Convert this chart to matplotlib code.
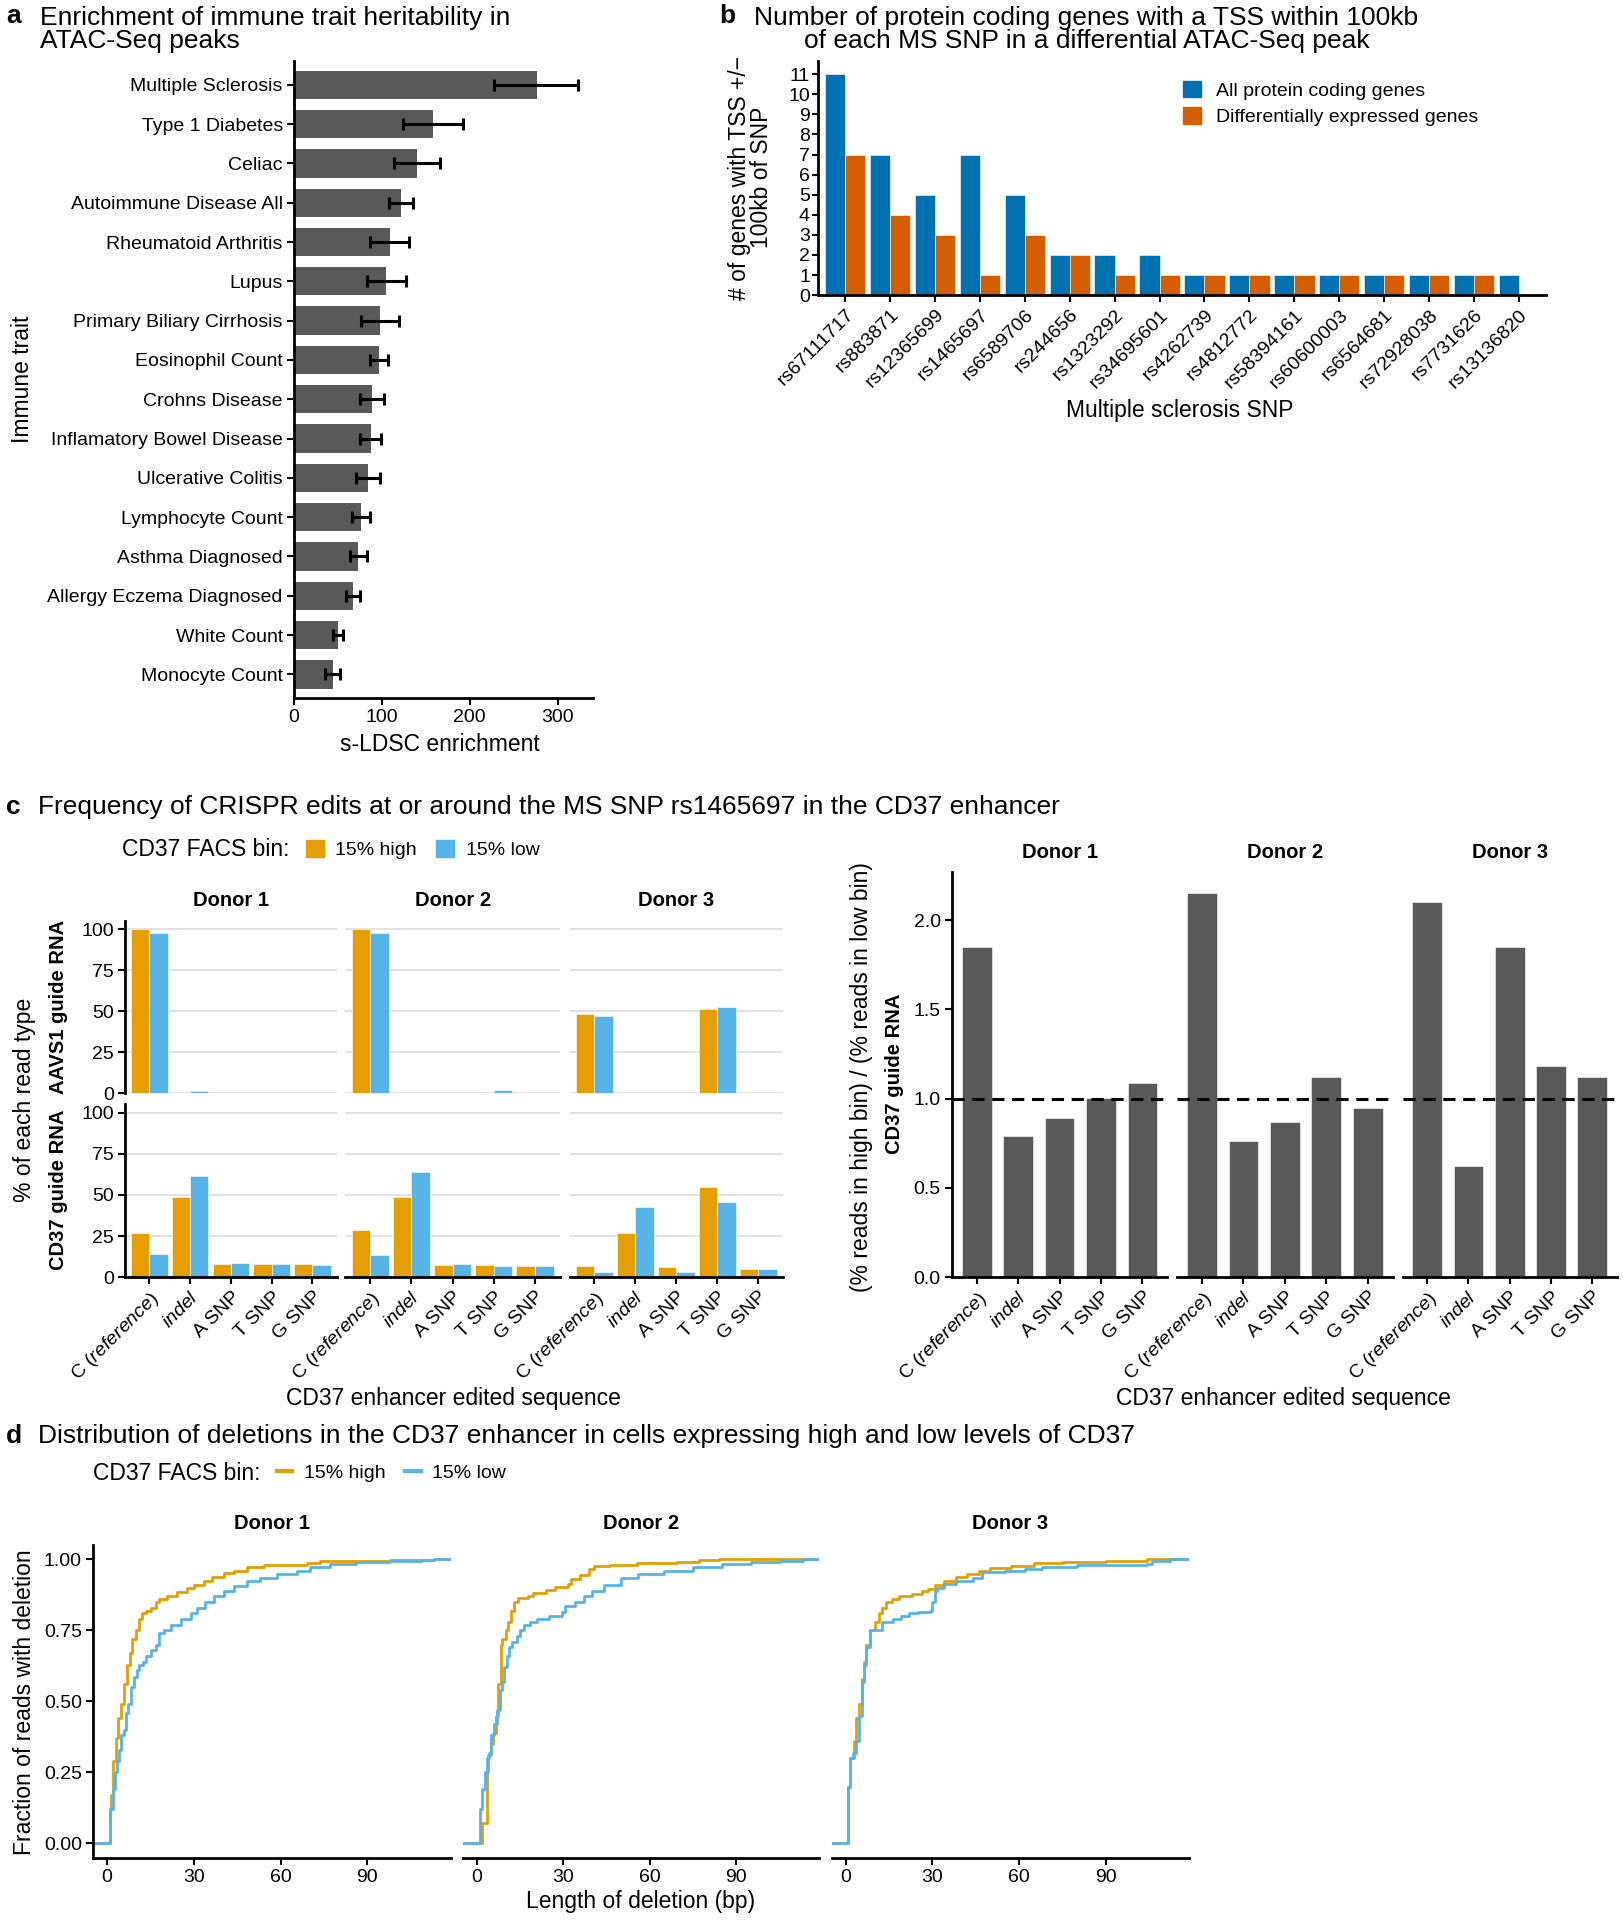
import numpy as np
import matplotlib
matplotlib.use('Agg')
import matplotlib.pyplot as plt
from matplotlib.patches import Patch
from matplotlib.lines import Line2D

plt.rcParams['font.family'] = ['Liberation Sans', 'DejaVu Sans']
plt.rcParams['mathtext.fontset'] = 'custom'
plt.rcParams['mathtext.rm'] = 'Liberation Sans'
plt.rcParams['mathtext.it'] = 'Liberation Sans:italic'

# ---- data -------------------------------------------------------------
traits = ['Multiple Sclerosis', 'Type 1 Diabetes', 'Celiac', 'Autoimmune Disease All',
          'Rheumatoid Arthritis', 'Lupus', 'Primary Biliary Cirrhosis', 'Eosinophil Count',
          'Crohns Disease', 'Inflamatory Bowel Disease', 'Ulcerative Colitis',
          'Lymphocyte Count', 'Asthma Diagnosed', 'Allergy Eczema Diagnosed',
          'White Count', 'Monocyte Count']
enrich = [276, 158, 140, 122, 109, 105, 98, 97, 89, 88, 84, 76, 73, 67, 50, 44]
enrich_lo = [228, 124, 114, 108, 87, 83, 76, 87, 75, 75, 70, 66, 64, 59, 44, 35]
enrich_hi = [323, 192, 166, 135, 131, 127, 120, 107, 102, 99, 98, 86, 83, 75, 56, 52]

snps = ['rs67111717', 'rs883871', 'rs12365699', 'rs1465697', 'rs6589706', 'rs244656',
        'rs1323292', 'rs34695601', 'rs4262739', 'rs4812772', 'rs58394161', 'rs60600003',
        'rs6564681', 'rs72928038', 'rs7731626', 'rs13136820']
all_genes = [11, 7, 5, 7, 5, 2, 2, 2, 1, 1, 1, 1, 1, 1, 1, 1]
de_genes = [7, 4, 3, 1, 3, 2, 1, 1, 1, 1, 1, 1, 1, 1, 1, 0]

edit_types = ['C $\\mathit{(reference)}$', '$\\mathit{indel}$', 'A SNP', 'T SNP', 'G SNP']
donors = ['Donor 1', 'Donor 2', 'Donor 3']
aavs1_high = [[100, 0.2, 0, 0, 0], [100, 0, 0, 0, 0], [48.5, 0, 0.2, 51.5, 0]]
aavs1_low = [[97.5, 1.5, 0.4, 0.3, 0.3], [97.5, 0.2, 0, 2.0, 0], [47, 0, 0, 52.5, 0]]
cd37_high = [[26.7, 48.9, 7.7, 7.7, 7.9], [28.9, 48.9, 7.2, 7.5, 6.5], [6.5, 26.7, 6.0, 54.6, 5.2]]
cd37_low = [[14.2, 61.3, 8.7, 7.7, 7.2], [13.5, 63.8, 8.2, 6.5, 6.7], [3.2, 42.4, 3.2, 45.9, 4.7]]
ratio = [[1.85, 0.79, 0.89, 1.005, 1.09], [2.15, 0.76, 0.87, 1.12, 0.95], [2.10, 0.62, 1.85, 1.18, 1.12]]

# ECDF of deletion length (x = length bp, y = fraction)
d1_high_x = [1.1, 1.4, 2.0, 3.1, 3.9, 5.0, 6.0, 6.9, 8.0, 8.8, 10, 11.1, 12, 13.4, 15.1, 16.9, 18,
             20.9, 24.3, 27.8, 30, 33.5, 36.4, 40.4, 43.8, 48.4, 54.1, 63.3, 69, 73.6, 86, 97.7,
             113]
d1_high_y = [0.12, 0.17, 0.29, 0.37, 0.44, 0.49, 0.56, 0.63, 0.67, 0.72, 0.75, 0.79, 0.81, 0.82,
             0.83, 0.85, 0.86, 0.87, 0.885, 0.90, 0.91, 0.925, 0.94, 0.953, 0.961, 0.973, 0.98,
             0.982, 0.988, 0.994, 0.996, 0.998, 1.0]
d1_low_x = [1.1, 2.0, 2.8, 3.4, 4.2, 5.0, 6.0, 6.6, 7.3, 8.3, 9.2, 10.3, 11.1, 12.3, 13.4, 15.1,
            16.9, 18, 19.7, 22, 25.5, 28.9, 31.2, 34, 37, 40.4, 43.8, 48.4, 53, 58.7, 65.6, 70.2,
            77, 86, 97.7, 109, 113]
d1_low_y = [0.12, 0.19, 0.25, 0.29, 0.33, 0.38, 0.40, 0.46, 0.49, 0.55, 0.585, 0.61, 0.63, 0.64,
            0.66, 0.68, 0.70, 0.74, 0.75, 0.77, 0.79, 0.81, 0.83, 0.85, 0.87, 0.89, 0.905, 0.925,
            0.935, 0.95, 0.96, 0.975, 0.985, 0.99, 0.995, 0.998, 1.0]
d2_high_x = [1.95, 3.4, 4.0, 4.8, 5.5, 6.5, 7.3, 8.4, 8.8, 10, 10.9, 11.8, 13, 14.1, 17.8, 19.5,
             24, 27, 31.5, 32.7, 35.6, 39, 40.7, 46, 55.6, 69.4, 77, 84]
d2_high_y = [0.07, 0.25, 0.31, 0.35, 0.39, 0.45, 0.56, 0.70, 0.72, 0.75, 0.78, 0.82, 0.85, 0.865,
             0.871, 0.883, 0.891, 0.903, 0.915, 0.93, 0.947, 0.967, 0.977, 0.98, 0.986, 0.992,
             0.998, 1.0]
d2_low_x = [1.1, 1.95, 2.8, 3.5, 4.2, 5.0, 6.0, 7.0, 8.0, 8.8, 9.5, 10.3, 11.2, 12.3, 13.8, 15,
            16.5, 18.5, 21, 25, 29.5, 30.5, 34, 37, 40, 44, 50, 56, 65, 75, 85, 95, 105, 113]
d2_low_y = [0.12, 0.19, 0.25, 0.30, 0.32, 0.38, 0.42, 0.47, 0.54, 0.57, 0.62, 0.66, 0.69, 0.71,
            0.73, 0.75, 0.77, 0.78, 0.79, 0.80, 0.815, 0.835, 0.85, 0.87, 0.89, 0.91, 0.935,
            0.95, 0.96, 0.975, 0.985, 0.99, 0.995, 1.0]
d3_high_x = [1.0, 1.5, 2.8, 3.5, 4.5, 5.5, 6.3, 7.0, 8.5, 10.3, 11.5, 12.5, 14, 16, 18.5, 23,
             26.5, 28.5, 31, 34, 38, 42, 46, 50, 57, 65, 75, 90, 104]
d3_high_y = [0.20, 0.30, 0.36, 0.44, 0.49, 0.58, 0.64, 0.70, 0.75, 0.78, 0.81, 0.83, 0.85, 0.86,
             0.87, 0.88, 0.89, 0.895, 0.91, 0.925, 0.94, 0.95, 0.96, 0.97, 0.977, 0.986, 0.992,
             0.996, 1.0]
d3_low_x = [1.0, 1.5, 2.5, 3.5, 4.7, 5.5, 6.3, 7.0, 8.5, 12.6, 16.5, 19, 22, 25, 29, 30, 30.8,
            31.5, 34, 38, 44, 47, 55, 62, 68, 80, 104, 106, 112]
d3_low_y = [0.20, 0.30, 0.32, 0.36, 0.45, 0.57, 0.63, 0.69, 0.75, 0.78, 0.79, 0.80, 0.81, 0.815,
            0.82, 0.85, 0.89, 0.90, 0.915, 0.925, 0.935, 0.955, 0.96, 0.965, 0.975, 0.98, 0.985,
            0.995, 1.0]
del_high = [(d1_high_x, d1_high_y), (d2_high_x, d2_high_y), (d3_high_x, d3_high_y)]
del_low = [(d1_low_x, d1_low_y), (d2_low_x, d2_low_y), (d3_low_x, d3_low_y)]

GREY = '#595959'
ORANGE = '#E69F00'
SKY = '#56B4E9'
BLUE = '#0072B2'
VERM = '#D55E00'

TICK = 14
AXT = 16.5
TITLE = 19
STRIP = 14.5

# layout was measured on a 1325 x 1568 copy of the reference
W, H = 1325, 1568


def box(l, t, r, b):
    return [l / W, 1 - b / H, (r - l) / W, (b - t) / H]


def fx(x):
    return x / W


def fy(y):
    return 1 - y / H


def classic(ax, left=True, bottom=True):
    for s in ['top', 'right']:
        ax.spines[s].set_visible(False)
    ax.spines['left'].set_visible(left)
    ax.spines['bottom'].set_visible(bottom)
    for s in ['left', 'bottom']:
        ax.spines[s].set_linewidth(2)
    ax.tick_params(width=1.5, length=5, labelsize=TICK, colors='black', pad=3)
    if not left:
        ax.tick_params(left=False, labelleft=False)
    if not bottom:
        ax.tick_params(bottom=False, labelbottom=False)


fig = plt.figure(figsize=(16.23, 19.2), dpi=100)

# ---- a ----------------------------------------------------------------
ax = fig.add_axes(box(240, 50, 484, 570))
n = len(traits)
ypos = np.arange(n)
ax.barh(ypos, enrich, height=0.72, color=GREY)
e = np.array(enrich)
ax.errorbar(enrich, ypos, xerr=[e - np.array(enrich_lo), np.array(enrich_hi) - e],
            fmt='none', ecolor='black', elinewidth=2.2, capsize=4, capthick=2.2)
ax.set_yticks(ypos)
ax.set_yticklabels(traits)
ax.set_ylim(n - 0.4, -0.6)
ax.set_xlim(0, 340)
ax.set_xticks([0, 100, 200, 300])
classic(ax)
fig.text(fx(359), fy(608), 's-LDSC enrichment', fontsize=AXT, ha='center', va='center')
fig.text(fx(18), fy(310), 'Immune trait', fontsize=AXT, rotation=90, ha='center', va='center')
fig.text(fx(5), fy(13), 'a', fontsize=TITLE, weight='bold', va='center')
fig.text(fx(33), fy(24), 'Enrichment of immune trait heritability in\nATAC-Seq peaks',
         fontsize=TITLE, va='center', linespacing=0.95)

# ---- b ----------------------------------------------------------------
ax = fig.add_axes(box(668, 50, 1262, 241))
xb = np.arange(1, len(snps) + 1)
ax.bar(xb - 0.225, all_genes, 0.45, color=BLUE, edgecolor='white', linewidth=0.4)
ax.bar(xb + 0.225, de_genes, 0.45, color=VERM, edgecolor='white', linewidth=0.4)
ax.set_xlim(0.4, 16.6)
ax.set_ylim(0, 11.65)
ax.set_yticks(range(12))
ax.set_xticks(xb)
ax.set_xticklabels(snps, rotation=45, ha='right', rotation_mode='anchor')
classic(ax)
ax.tick_params(axis='y', length=4, pad=2)
fig.text(fx(963), fy(335), 'Multiple sclerosis SNP', fontsize=AXT, ha='center', va='center')
fig.text(fx(613), fy(145), '# of genes with TSS +/\u2212\n100kb of SNP', fontsize=AXT,
         rotation=90, ha='center', va='center', linespacing=0.95)
ax.legend([Patch(color=BLUE), Patch(color=VERM)],
          ['All protein coding genes', 'Differentially expressed genes'],
          loc='upper left', bbox_to_anchor=(fx(966), fy(66)), bbox_transform=fig.transFigure,
          frameon=False, fontsize=TICK, handlelength=0.9, handleheight=0.9, borderpad=0,
          borderaxespad=0, labelspacing=0.4, handletextpad=0.8)
fig.text(fx(587), fy(13), 'b', fontsize=TITLE, weight='bold', va='center')
fig.text(fx(887), fy(24), 'Number of protein coding genes with a TSS within 100kb\n'
         'of each MS SNP in a differential ATAC-Seq peak',
         fontsize=TITLE, va='center', ha='center', linespacing=0.95)

# ---- c (left) ---------------------------------------------------------
fig.text(fx(5), fy(659), 'c', fontsize=TITLE, weight='bold', va='center')
fig.text(fx(31), fy(659), 'Frequency of CRISPR edits at or around the MS SNP rs1465697 '
         'in the CD37 enhancer', fontsize=TITLE, va='center')
fig.text(fx(100), fy(694), 'CD37 FACS bin:', fontsize=AXT, va='center')
fig.legend([Patch(color=ORANGE), Patch(color=SKY)], ['15% high', '15% low'],
           loc='center left', bbox_to_anchor=(fx(250), fy(694)), ncol=2, frameon=False,
           fontsize=TICK, handlelength=0.9, handleheight=0.9, columnspacing=1.0,
           handletextpad=0.6, borderpad=0, borderaxespad=0)

cols_l = [(102, 275), (282, 457), (465, 639)]
rows_l = [(752, 893), (902, 1043)]
row_data = [(aavs1_high, aavs1_low), (cd37_high, cd37_low)]
xc = np.arange(1, 6)
for r in range(2):
    hi, lo = row_data[r]
    for c in range(3):
        ax = fig.add_axes(box(cols_l[c][0], rows_l[r][0], cols_l[c][1], rows_l[r][1]))
        ax.bar(xc - 0.225, hi[c], 0.45, color=ORANGE, edgecolor='white', linewidth=0.4)
        ax.bar(xc + 0.225, lo[c], 0.45, color=SKY, edgecolor='white', linewidth=0.4)
        ax.set_xlim(0.4, 5.6)
        ax.set_ylim(0, 105)
        ax.set_yticks([0, 25, 50, 75, 100])
        ax.set_xticks(xc)
        ax.yaxis.grid(True, color='#DDDDDD', linewidth=1.2)
        ax.set_axisbelow(True)
        classic(ax, left=(c == 0), bottom=(r == 1))
        if r == 1:
            ax.set_xticklabels(edit_types, rotation=45, ha='right', rotation_mode='anchor')
        if r == 0:
            fig.text(fx((cols_l[c][0] + cols_l[c][1]) / 2), fy(735), donors[c],
                     fontsize=STRIP, weight='bold', ha='center', va='center')
fig.text(fx(48), fy(822), 'AAVS1 guide RNA', rotation=90, fontsize=STRIP, weight='bold',
         ha='center', va='center')
fig.text(fx(48), fy(972), 'CD37 guide RNA', rotation=90, fontsize=STRIP, weight='bold',
         ha='center', va='center')
fig.text(fx(20), fy(898), '% of each read type', rotation=90, fontsize=AXT,
         ha='center', va='center')
fig.text(fx(370), fy(1142), 'CD37 enhancer edited sequence', fontsize=AXT,
         ha='center', va='center')

# ---- c (right) --------------------------------------------------------
cols_r = [(777, 953), (961, 1137), (1145, 1320)]
for c in range(3):
    ax = fig.add_axes(box(cols_r[c][0], 712, cols_r[c][1], 1043))
    ax.bar(xc, ratio[c], 0.72, color=GREY, edgecolor='white', linewidth=0.4)
    ax.axhline(1.0, color='black', linewidth=2.2, linestyle=(0, (4, 2.5)))
    ax.set_xlim(0.4, 5.6)
    ax.set_ylim(0, 2.27)
    ax.set_yticks([0.0, 0.5, 1.0, 1.5, 2.0])
    ax.set_yticklabels(['0.0', '0.5', '1.0', '1.5', '2.0'])
    ax.set_xticks(xc)
    ax.set_xticklabels(edit_types, rotation=45, ha='right', rotation_mode='anchor')
    classic(ax, left=(c == 0))
    fig.text(fx((cols_r[c][0] + cols_r[c][1]) / 2), fy(696), donors[c],
             fontsize=STRIP, weight='bold', ha='center', va='center')
fig.text(fx(703), fy(880), '(% reads in high bin) / (% reads in low bin)', rotation=90,
         fontsize=AXT, ha='center', va='center')
fig.text(fx(730), fy(877), 'CD37 guide RNA', rotation=90, fontsize=STRIP, weight='bold',
         ha='center', va='center')
fig.text(fx(1048), fy(1142), 'CD37 enhancer edited sequence', fontsize=AXT,
         ha='center', va='center')

# ---- d ----------------------------------------------------------------
fig.text(fx(5), fy(1173), 'd', fontsize=TITLE, weight='bold', va='center')
fig.text(fx(31), fy(1173), 'Distribution of deletions in the CD37 enhancer in cells '
         'expressing high and low levels of CD37', fontsize=TITLE, va='center')
fig.text(fx(76), fy(1203), 'CD37 FACS bin:', fontsize=AXT, va='center')
fig.legend([Line2D([], [], color=ORANGE, lw=3), Line2D([], [], color=SKY, lw=3)],
           ['15% high', '15% low'], loc='center left', bbox_to_anchor=(fx(226), fy(1203)),
           ncol=2, frameon=False, fontsize=TICK, handlelength=0.8, columnspacing=1.0,
           handletextpad=0.6, borderpad=0, borderaxespad=0)

cols_d = [(76, 368), (378, 669), (679, 971)]
xlim_d = (-4.8, 118.8)
for c in range(3):
    ax = fig.add_axes(box(cols_d[c][0], 1262, cols_d[c][1], 1517))
    for (xs, ys), col in [(del_high[c], ORANGE), (del_low[c], SKY)]:
        ax.step([xlim_d[0]] + list(xs) + [xlim_d[1]], [0] + list(ys) + [ys[-1]],
                where='post', color=col, linewidth=2)
    ax.set_xlim(*xlim_d)
    ax.set_ylim(-0.05, 1.05)
    ax.set_xticks([0, 30, 60, 90])
    ax.set_yticks([0, 0.25, 0.5, 0.75, 1.0])
    ax.set_yticklabels(['0.00', '0.25', '0.50', '0.75', '1.00'])
    classic(ax, left=(c == 0))
    fig.text(fx((cols_d[c][0] + cols_d[c][1]) / 2), fy(1244), donors[c],
             fontsize=STRIP, weight='bold', ha='center', va='center')
fig.text(fx(20), fy(1390), 'Fraction of reads with deletion', rotation=90, fontsize=AXT,
         ha='center', va='center')
fig.text(fx(523), fy(1553), 'Length of deletion (bp)', fontsize=AXT,
         ha='center', va='center')

fig.savefig('out.png', dpi=100)
